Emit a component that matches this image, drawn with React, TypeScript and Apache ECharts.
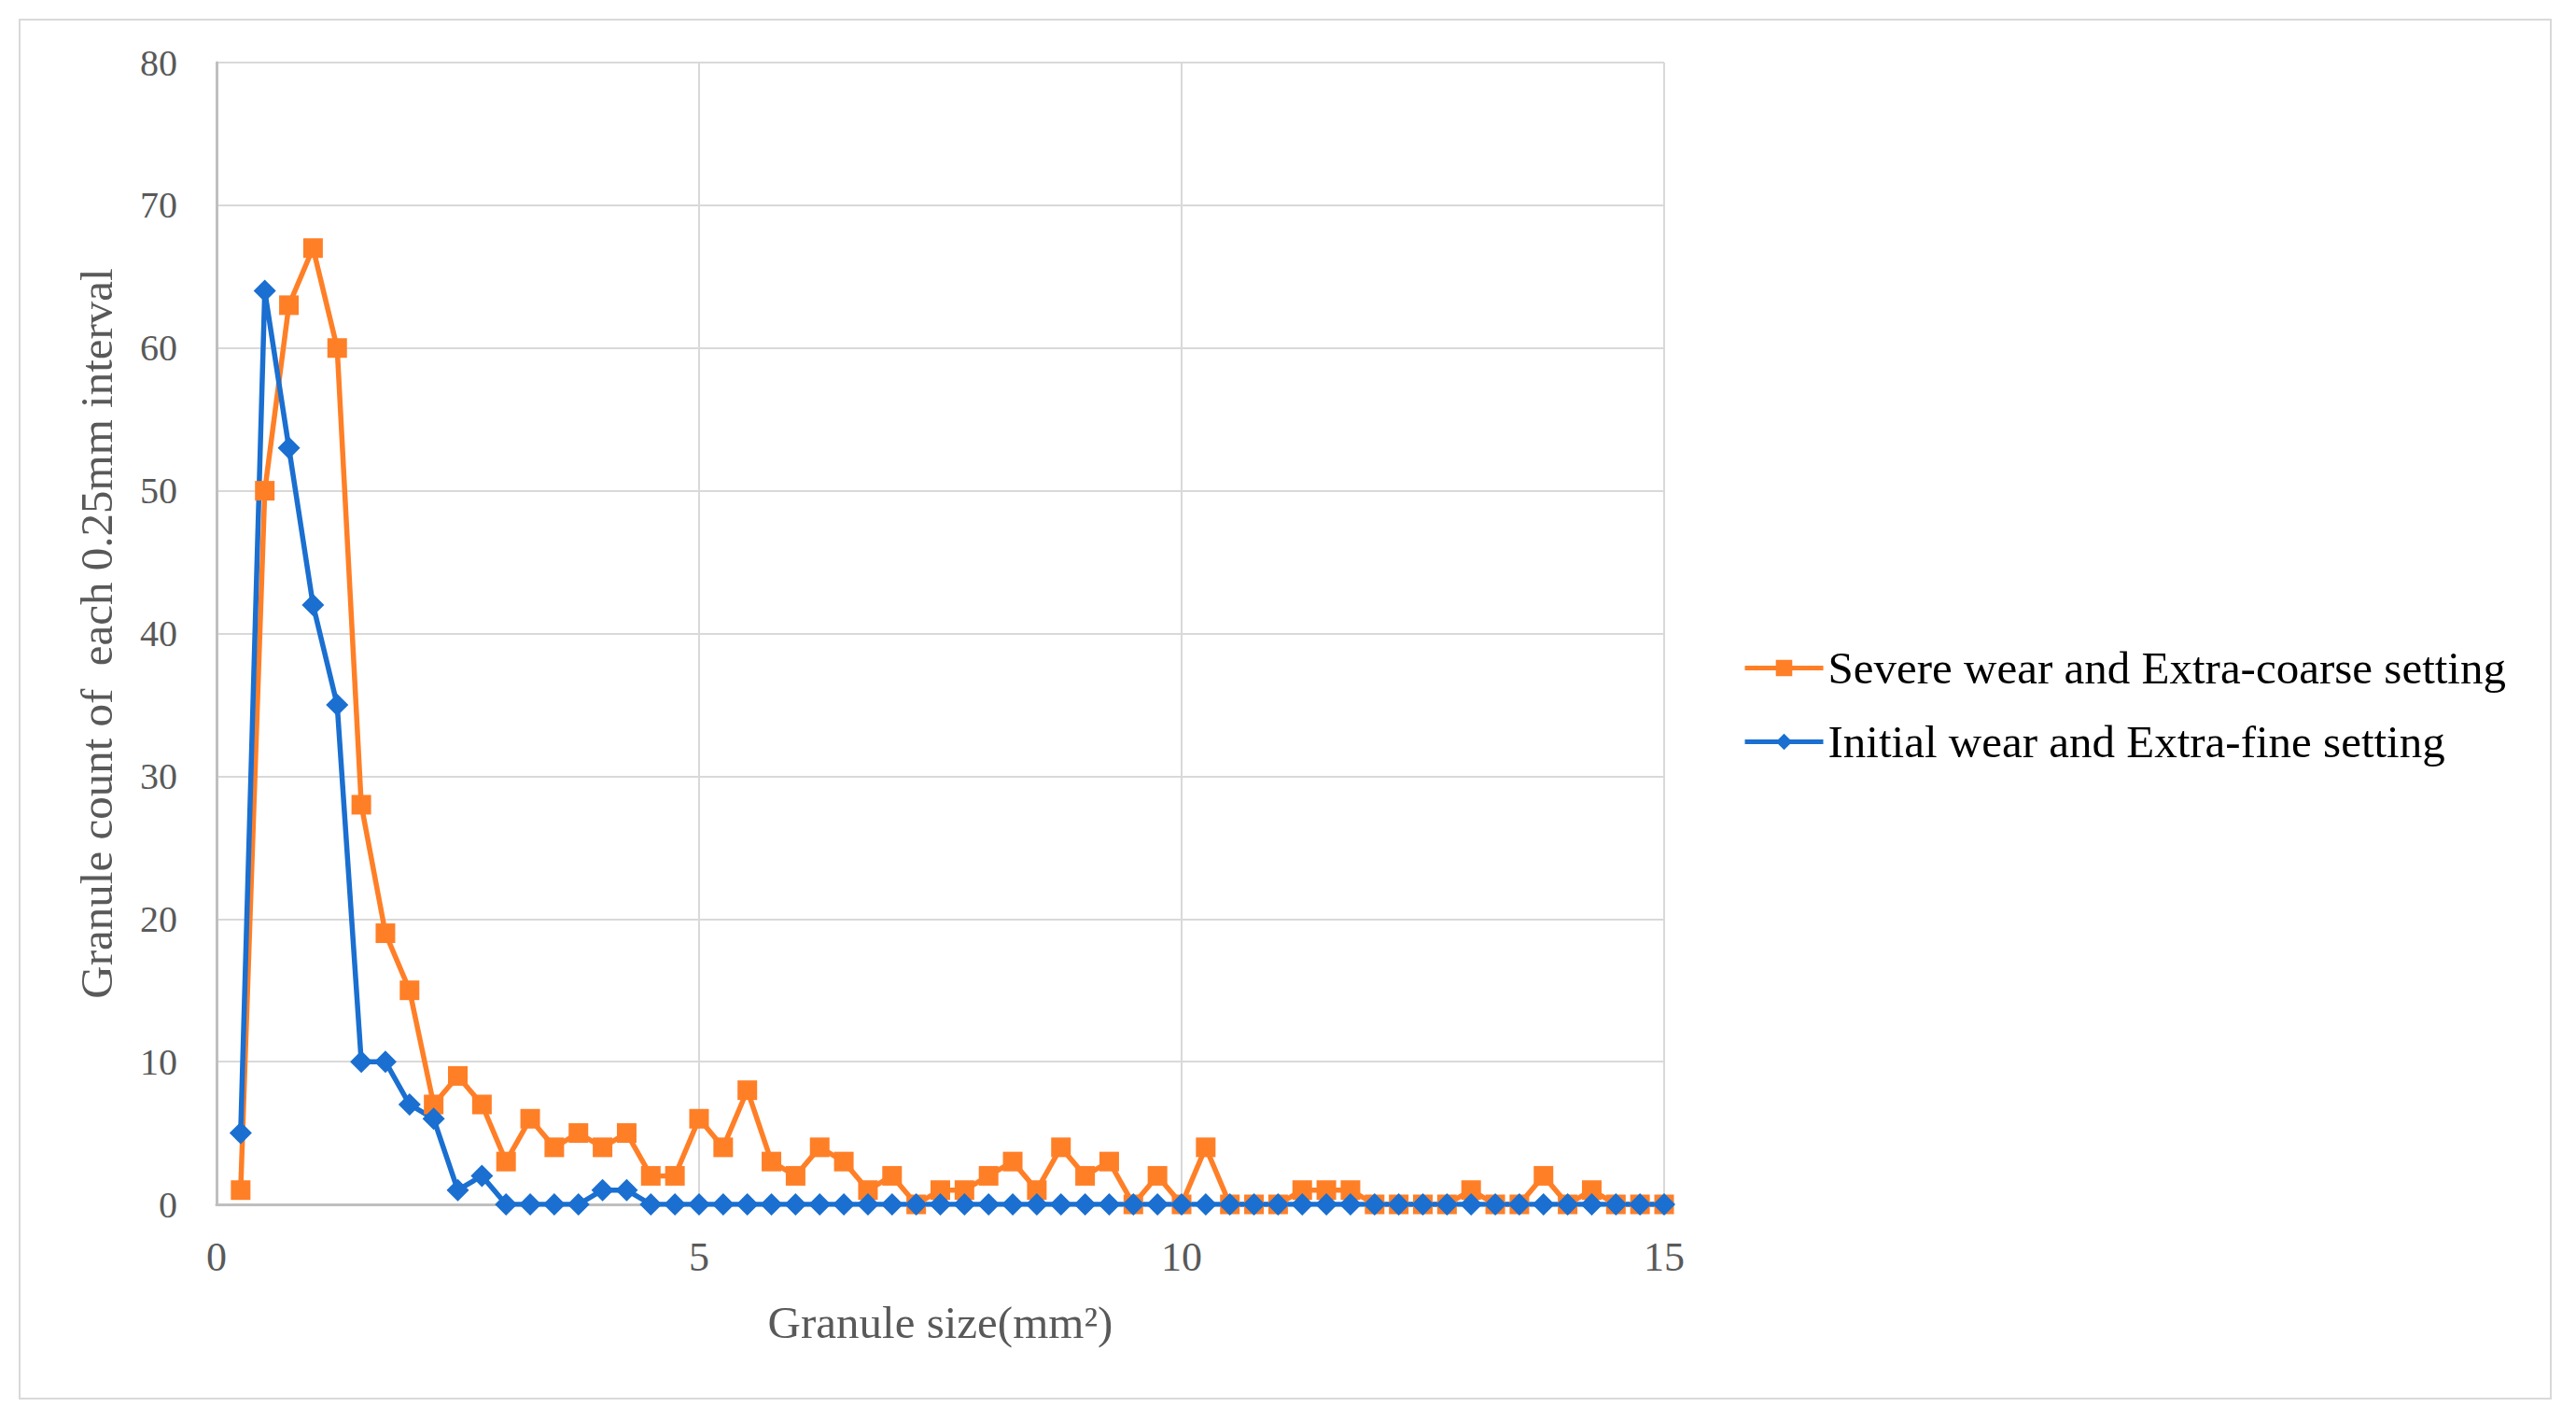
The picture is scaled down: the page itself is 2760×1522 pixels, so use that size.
import React, { useEffect, useRef } from "react";
import * as echarts from "echarts";

const sizes = [
  0.25, 0.5, 0.75, 1, 1.25, 1.5, 1.75, 2, 2.25, 2.5, 2.75, 3, 3.25, 3.5, 3.75, 4,
  4.25, 4.5, 4.75, 5, 5.25, 5.5, 5.75, 6, 6.25, 6.5, 6.75, 7, 7.25, 7.5, 7.75, 8,
  8.25, 8.5, 8.75, 9, 9.25, 9.5, 9.75, 10, 10.25, 10.5, 10.75, 11, 11.25, 11.5, 11.75, 12,
  12.25, 12.5, 12.75, 13, 13.25, 13.5, 13.75, 14, 14.25, 14.5, 14.75, 15,
];

const severeCounts = [
  1, 50, 63, 67, 60, 28, 19, 15, 7, 9, 7, 3, 6, 4, 5, 4,
  5, 2, 2, 6, 4, 8, 3, 2, 4, 3, 1, 2, 0, 1, 1, 2,
  3, 1, 4, 2, 3, 0, 2, 0, 4, 0, 0, 0, 1, 1, 1, 0,
  0, 0, 0, 1, 0, 0, 2, 0, 1, 0, 0, 0,
];

const initialCounts = [
  5, 64, 53, 42, 35, 10, 10, 7, 6, 1, 2, 0, 0, 0, 0, 1,
  1, 0, 0, 0, 0, 0, 0, 0, 0, 0, 0, 0, 0, 0, 0, 0,
  0, 0, 0, 0, 0, 0, 0, 0, 0, 0, 0, 0, 0, 0, 0, 0,
  0, 0, 0, 0, 0, 0, 0, 0, 0, 0, 0, 0,
];

const seriesNames = [
  "Severe wear and Extra-coarse setting",
  "Initial wear and Extra-fine setting",
];

const xTitle = "Granule size(mm²)";
const yTitle = "Granule count of  each 0.25mm interval";

const W = 2760;
const H = 1522;

export default function App() {
  const ref = useRef<HTMLDivElement>(null);

  useEffect(() => {
    document.body.style.margin = "0";
    if (!ref.current) return;
    const chart = echarts.init(ref.current, null, { renderer: "svg" });
    const font = "'Liberation Serif', 'Times New Roman', serif";
    const toPairs = (vals: number[]) => sizes.map((s, i) => [s, vals[i]]);
    chart.setOption({
      animation: false,
      backgroundColor: "#ffffff",
      graphic: [
        {
          type: "rect",
          shape: { x: 21, y: 21, width: 2712, height: 1477 },
          style: { fill: "none", stroke: "#d9d9d9", lineWidth: 2 },
          silent: true,
        },
      ],
      grid: { left: 232, right: W - 1783, top: 67, bottom: H - 1290, containLabel: false },
      xAxis: {
        type: "value",
        min: 0,
        max: 15,
        interval: 5,
        name: xTitle,
        nameLocation: "middle",
        nameGap: 102,
        nameTextStyle: { fontFamily: font, fontSize: 49, color: "#595959" },
        axisLine: { show: true, lineStyle: { color: "#bfbfbf", width: 3 } },
        axisTick: { show: false },
        axisLabel: { fontFamily: font, fontSize: 44, color: "#595959", margin: 34 },
        splitLine: { show: true, lineStyle: { color: "#d9d9d9", width: 2 } },
      },
      yAxis: {
        type: "value",
        min: 0,
        max: 80,
        interval: 10,
        name: yTitle,
        nameLocation: "middle",
        nameGap: 104,
        nameTextStyle: { fontFamily: font, fontSize: 49, color: "#595959" },
        axisLine: { show: true, lineStyle: { color: "#bfbfbf", width: 3 } },
        axisTick: { show: false },
        axisLabel: { fontFamily: font, fontSize: 40, color: "#595959", margin: 42 },
        splitLine: { show: true, lineStyle: { color: "#d9d9d9", width: 2 } },
      },
      legend: {
        orient: "vertical",
        left: 1862,
        top: 686,
        itemWidth: 84,
        itemHeight: 22,
        itemGap: 30,
        lineStyle: { width: 5 },
        textStyle: { fontFamily: font, fontSize: 49, color: "#000000", padding: [0, 0, 0, 0] },
        data: seriesNames,
      },
      series: [
        {
          name: seriesNames[0],
          type: "line",
          data: toPairs(severeCounts),
          symbol: "rect",
          symbolSize: 21,
          showAllSymbol: true,
          lineStyle: { color: "#ff7f27", width: 5.5 },
          itemStyle: { color: "#ff7f27" },
        },
        {
          name: seriesNames[1],
          type: "line",
          data: toPairs(initialCounts),
          symbol: "diamond",
          symbolSize: [24, 24],
          showAllSymbol: true,
          lineStyle: { color: "#1a6fd0", width: 5.5 },
          itemStyle: { color: "#1a6fd0" },
        },
      ],
    });
    return () => chart.dispose();
  }, []);

  return <div ref={ref} style={{ width: W, height: H }} />;
}
